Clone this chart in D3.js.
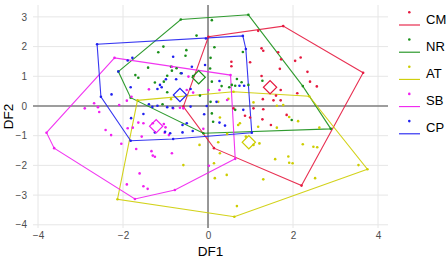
<!DOCTYPE html>
<html><head><meta charset="utf-8">
<script src="https://cdn.jsdelivr.net/npm/d3@7"></script>
<style>body{margin:0;background:#fff}svg{display:block}</style>
</head><body><svg id="c" width="447" height="258"></svg>
<script>
const groups = ["CM", "NR", "AT", "SB", "CP"];
const groupColors = ["#E5193F", "#1A901A", "#CDCD00", "#F020F0", "#2020F0"];
const xTicks = [-4, -2, 0, 2, 4];
const yTicks = [-4, -3, -2, -1, 0, 1, 2, 3];

const cmPoints = [[0.01,2.33],[1.77,2.69],[3.65,1.12],[2.2,-2.68],[0.14,-1.42],[-0.58,-0.02],
  [1.18,2.53],[1.26,1.94],[1.30,1.86],[1.65,1.81],[1.72,1.57],[2.05,1.52],[2.18,1.63],[1.69,1.25],
  [2.34,1.15],[1.26,1.01],[0.99,1.47],[0.55,1.49],[0.55,1.34],[2.40,0.82],[2.56,0.66],[2.10,0.43],
  [1.71,0.54],[1.29,0.23],[1.54,0.19],[1.71,0.19],[1.60,0.35],[1.30,-0.11],[1.28,-0.45],[1.85,-0.30],
  [0.99,-0.39],[1.48,-0.64],[1.07,-0.08],[0.60,-0.08],[0.87,-0.33]];
const nrPoints = [[-0.64,2.91],[0.95,3.07],[2.89,-0.77],[-0.11,-0.92],[-1.82,0.28],[-2.11,1.16],
  [0.09,2.89],[-0.27,2.37],[0.15,1.98],[-0.51,1.88],[-0.53,1.69],[0.06,1.62],[0.82,1.82],[0.05,1.26],
  [-1.05,2.00],[-1.17,1.81],[-1.41,1.29],[-0.87,1.32],[-0.85,1.19],[-0.96,1.02],[-1.71,1.04],[-1.64,0.95],
  [-0.74,1.27],[-0.35,1.01],[-0.64,1.10],[-1.25,0.79],[-1.04,0.82],[-0.96,0.46],[-1.07,0.06],[0.09,0.82],
  [0.68,0.91],[0.79,0.80],[0.56,0.71],[0.64,0.68],[0.95,0.71],[0.50,0.63],[0.32,0.67],[-0.19,0.35],
  [0.06,0.14],[0.64,-0.13],[0.09,-0.25],[0.12,-0.53],[1.28,0.85],[2.23,0.67],[1.97,-0.47]];
const atPoints = [[-1.66,0.19],[0.6,0.48],[2.38,0.33],[3.75,-2.13],[0.62,-3.73],[-2.13,-3.14],
  [-0.87,0.23],[0.48,0.24],[0.24,0.14],[1.07,0.12],[1.62,0.01],[1.77,0.03],[1.91,-0.37],[2.12,-0.51],
  [2.62,-0.73],[1.18,-0.70],[1.62,-0.73],[0.28,-0.39],[0.71,-0.64],[1.07,-1.31],[1.21,-1.26],[2.23,-1.29],
  [2.48,-1.37],[2.57,-1.39],[1.89,-1.70],[1.91,-1.91],[1.99,-1.93],[2.52,-2.43],[3.54,-1.99],[1.58,-1.79],
  [1.30,-2.47],[0.89,-1.03],[0.45,-0.94],[0.75,-0.58],[0.24,-1.22],[-0.20,-1.31],[0.28,-1.59],[0.14,-1.93],
  [-0.58,-1.99],[0.16,-2.43],[0.44,-2.32],[0.68,-3.37]];
const sbPoints = [[-2.2,1.62],[0.53,1.04],[0.64,-1.78],[-0.78,-2.83],[-1.72,-3.13],[-3.62,-1.42],[-3.8,-0.9],
  [-2.90,-0.08],[-2.59,-0.04],[-2.56,-0.20],[-2.68,0.09],[-2.09,0.03],[-1.91,0.18],[-1.80,0.31],[-1.39,0.56],
  [-0.85,1.32],[-0.46,0.99],[-0.50,0.54],[-0.35,0.45],[0.01,0.54],[0.27,0.54],[0.45,0.20],[-0.82,-0.08],
  [-0.58,-0.08],[-0.66,-0.06],[-1.64,-0.56],[-1.52,-0.58],[-1.30,-0.58],[-1.04,-0.61],[-1.00,-0.72],
  [-1.02,-0.90],[-0.92,-0.98],[-1.77,-0.73],[-1.89,-0.75],[-2.41,-0.81],[-2.28,-0.98],[-1.56,-1.03],
  [-2.04,-1.27],[-1.69,-1.45],[-1.33,-1.52],[-1.30,-1.67],[-1.25,-1.71],[-0.85,-1.59],[-1.61,-2.27],
  [-1.91,-2.64],[-1.52,-2.70],[-1.42,-2.79],[0.02,-2.01],[-0.11,-0.77]];
const cpPoints = [[-2.61,2.08],[-0.05,2.27],[0.82,2.36],[0.89,1.92],[1.03,-0.90],[-0.82,-1.11],[-1.82,-1.17],[-2.52,0.31],
  [-2.11,1.16],[-1.89,1.53],[-1.78,1.62],[-2.27,0.39],[-1.82,0.63],[-1.52,-0.27],[-0.82,1.66],[-0.07,1.38],
  [-0.38,1.32],[-0.62,1.10],[-0.99,0.90],[-0.75,0.90],[-1.13,0.71],[-1.09,0.63],[-1.19,0.57],[-0.41,0.57],
  [0.27,0.84],[0.74,0.68],[0.85,0.68],[0.20,0.14],[-0.03,0.00],[-1.39,0.06],[-1.31,-0.03],[-1.19,0.01],
  [-0.96,-0.04],[-0.83,-0.06],[-0.41,-0.02],[-0.09,-0.28],[0.83,-0.13],[-1.81,-0.41],[-1.25,-0.89],
  [-1.01,-0.87],[-0.89,-0.92],[-0.60,-0.89],[-0.36,-0.84],[-0.50,-0.58],[-0.60,-0.64],[0.27,-0.56],[0.40,-0.66]];
const groupPoints = [cmPoints, nrPoints, atPoints, sbPoints, cpPoints];
const centroidX = [1.46, -0.22, 0.96, -1.22, -0.66];
const centroidY = [0.63, 0.97, -1.22, -0.68, 0.37];

const svg = d3.select("#c");
const font = "'Liberation Sans', Arial, sans-serif";
const x = d3.scaleLinear().domain([-4.118, 4.235]).range([33, 388]);
const y = d3.scaleLinear().domain([-4.108, 3.40]).range([228, 5]);

// grid
const grid = svg.append("g");
grid.selectAll(".gx").data(xTicks).join("line")
  .attr("x1", d => x(d)).attr("x2", d => x(d)).attr("y1", y.range()[1]).attr("y2", y.range()[0])
  .attr("stroke", "#e6e6e6").attr("stroke-width", 1);
grid.selectAll(".gy").data(yTicks).join("line")
  .attr("y1", d => y(d)).attr("y2", d => y(d)).attr("x1", x.range()[0]).attr("x2", x.range()[1])
  .attr("stroke", "#e6e6e6").attr("stroke-width", 1);

// axes
const xAxis = svg.append("g").attr("transform", `translate(0,${y.range()[0] + 1})`)
  .call(d3.axisBottom(x).tickValues(xTicks).tickSize(0).tickPadding(3));
const yAxis = svg.append("g").attr("transform", `translate(${x.range()[0] - 4},0)`)
  .call(d3.axisLeft(y).tickValues(yTicks).tickSize(0).tickPadding(2));
[xAxis, yAxis].forEach(a => {
  a.select(".domain").remove();
  a.selectAll("text").attr("font-family", font).attr("font-size", 10).attr("fill", "#4d4d4d");
});

// zero lines
svg.append("line").attr("x1", x.range()[0]).attr("x2", x.range()[1]).attr("y1", y(0)).attr("y2", y(0))
  .attr("stroke", "#808080").attr("stroke-width", 1.6);
svg.append("line").attr("x1", x(0)).attr("x2", x(0)).attr("y1", y.range()[1]).attr("y2", y.range()[0])
  .attr("stroke", "#808080").attr("stroke-width", 1.6);

// hulls
const line = d3.line().x(d => x(d[0])).y(d => y(d[1])).curve(d3.curveLinearClosed);
groups.forEach((g, i) => {
  const hull = d3.polygonHull(groupPoints[i]);
  svg.append("path").attr("d", line(hull)).attr("fill", "none")
    .attr("stroke", groupColors[i]).attr("stroke-width", 1.1).attr("stroke-opacity", 0.9);
});
// points
groups.forEach((g, i) => {
  svg.append("g").selectAll("circle").data(groupPoints[i]).join("circle")
    .attr("cx", d => x(d[0])).attr("cy", d => y(d[1])).attr("r", 1.3)
    .attr("fill", groupColors[i]);
});
// centroids
const diamond = d3.symbol().type(d3.symbolSquare).size(88);
groups.forEach((g, i) => {
  svg.append("path").attr("d", diamond())
    .attr("transform", `translate(${x(centroidX[i])},${y(centroidY[i])}) rotate(45)`)
    .attr("fill", "none").attr("stroke", groupColors[i]).attr("stroke-width", 1.2);
});

// axis titles
svg.append("text").attr("x", (x.range()[0] + x.range()[1]) / 2).attr("y", 256)
  .attr("text-anchor", "middle").attr("font-family", font).attr("font-size", 13.5).attr("fill", "#000").text("DF1");
svg.append("text").attr("transform", `translate(13,${(y.range()[0] + y.range()[1]) / 2}) rotate(-90)`)
  .attr("text-anchor", "middle").attr("font-family", font).attr("font-size", 13.5).attr("fill", "#000").text("DF2");

// legend
const leg = svg.append("g");
groups.forEach((g, i) => {
  const y0 = 19 + i * 27.2;
  leg.append("circle").attr("cx", 409.3).attr("cy", y0 - 6.7).attr("r", 1.3).attr("fill", groupColors[i]);
  leg.append("line").attr("x1", 399).attr("x2", 420).attr("y1", y0 + 6).attr("y2", y0 + 6)
    .attr("stroke", groupColors[i]).attr("stroke-width", 1.1);
  leg.append("text").attr("x", 426).attr("y", y0).attr("dy", "0.35em")
    .attr("font-family", font).attr("font-size", 13).attr("fill", "#000").text(g);
});
</script></body></html>
